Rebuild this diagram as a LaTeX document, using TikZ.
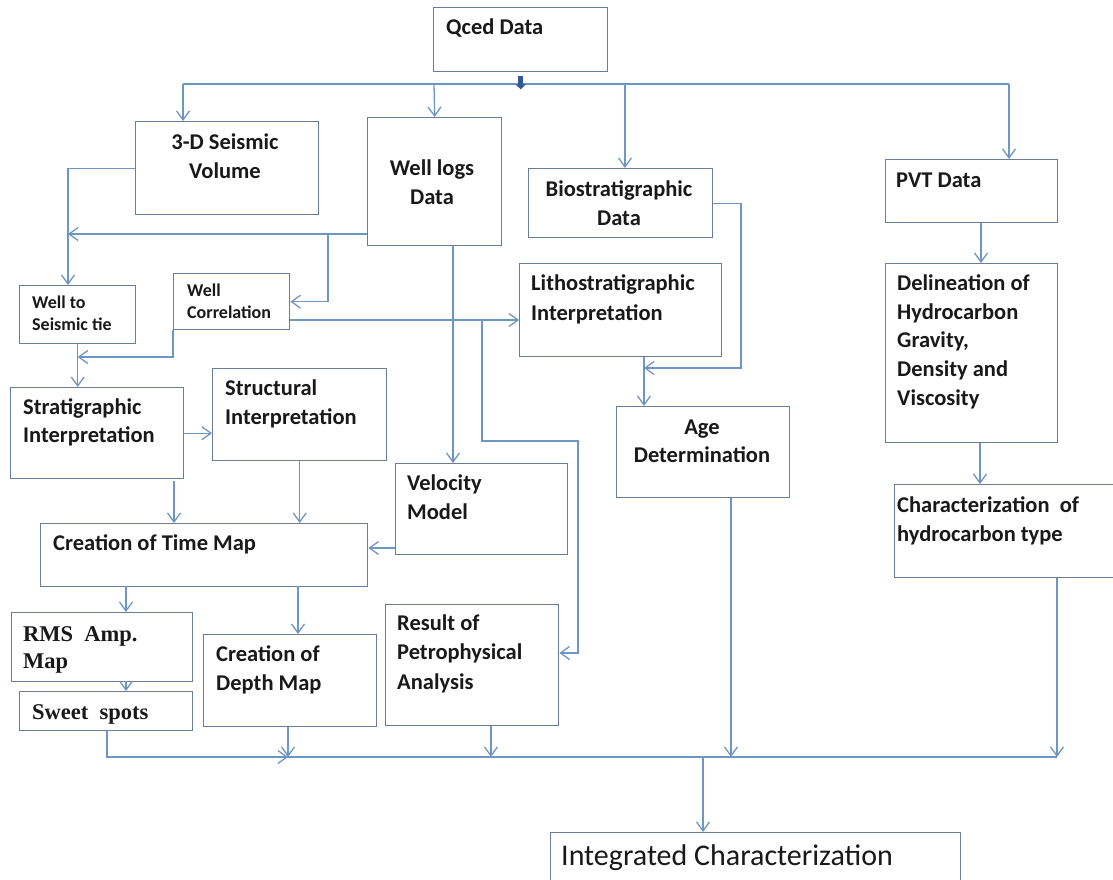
\documentclass[tikz,border=0pt]{standalone}
\usepackage{fontspec}
\setmainfont{Carlito}
\newfontfamily\tnr{Liberation Serif}
\usetikzlibrary{arrows.meta,calc}
\definecolor{boxc}{RGB}{105,125,150}
\definecolor{linec}{RGB}{110,150,195}
\definecolor{txtc}{RGB}{25,25,25}
\definecolor{arrc}{RGB}{50,90,150}
\newcommand\mystrut{\rule{0pt}{18pt}}
\begin{document}
\begin{tikzpicture}[x=1pt,y=-1pt,
  box/.style={draw=boxc,line width=1.4pt,inner sep=0pt,anchor=north west},
  lbl/.style={inner sep=0pt,anchor=north west,align=left,text=txtc,font=\fontsize{22.5}{29}\selectfont\bfseries},
  clbl/.style={lbl,anchor=north,align=center},
  slbl/.style={lbl,font=\fontsize{18}{22}\selectfont\bfseries},
  tlbl/.style={lbl,font=\tnr\fontsize{22.5}{27}\selectfont\bfseries},
  conn/.style={draw=linec,line width=1.3pt},
  arr/.style={conn,-{Straight Barb[length=9pt,width=13pt,line width=1.3pt]}},
]
\fill[white] (0,0) rectangle (1113,880);
\useasboundingbox (0,0) rectangle (1113,880);

% boxes
\node[box,minimum width=174pt,minimum height=64pt] (qced) at (433,7) {};
\node[box,minimum width=183pt,minimum height=93pt] (seis) at (135,121) {};
\node[box,minimum width=134pt,minimum height=128pt] (wlog) at (367,117) {};
\node[box,minimum width=184pt,minimum height=69pt] (bio) at (528,168) {};
\node[box,minimum width=172pt,minimum height=63pt] (pvt) at (885,159) {};
\node[box,minimum width=116pt,minimum height=58pt] (wst) at (19,285) {};
\node[box,minimum width=116pt,minimum height=56pt] (wcor) at (173,273) {};
\node[box,minimum width=202pt,minimum height=93pt] (lith) at (519,263) {};
\node[box,minimum width=172pt,minimum height=179pt] (deli) at (885,263) {};
\node[box,minimum width=173pt,minimum height=91pt] (strat) at (10,387) {};
\node[box,minimum width=174pt,minimum height=92pt] (struc) at (212,368) {};
\node[box,minimum width=172pt,minimum height=91pt] (vel) at (395,463) {};
\node[box,minimum width=173pt,minimum height=91pt] (age) at (616,406) {};
\node[box,minimum width=327pt,minimum height=63pt] (tmap) at (40,523) {};
\node[box,minimum width=226pt,minimum height=93pt] (char) at (894,484) {};
\node[box,minimum width=181pt,minimum height=69pt] (rms) at (11,612) {};
\node[box,minimum width=173pt,minimum height=39pt] (sweet) at (19,691) {};
\node[box,minimum width=173pt,minimum height=92pt] (depth) at (203,634) {};
\node[box,minimum width=173pt,minimum height=121pt] (res) at (385,604) {};
\node[box,minimum width=410pt,minimum height=60pt] (integ) at (550,832) {};

% texts
\node[lbl] (tqced) at (446,16) {\mystrut Qced Data};
\node[clbl] (tseis) at (225,131) {\mystrut 3-D Seismic\\Volume};
\node[clbl] (twlog) at (432,157) {\mystrut Well logs\\Data};
\node[clbl] (tbio) at (619,178) {\mystrut Biostratigraphic\\Data};
\node[lbl] (tpvt) at (896,169) {\mystrut PVT Data};
\node[slbl] (twst) at (32,290) {\mystrut Well to\\Seismic tie};
\node[slbl] (twcor) at (187,278) {\mystrut Well\\Correlation};
\node[lbl,font=\fontsize{22.5}{30}\selectfont\bfseries] (tlith) at (531,272) {\mystrut Lithostratigraphic\\Interpretation};
\node[lbl,font=\fontsize{22.5}{28.8}\selectfont\bfseries] (tdeli) at (897,272) {\mystrut Delineation of\\Hydrocarbon\\Gravity,\\Density and\\Viscosity};
\node[lbl,font=\fontsize{22.5}{28}\selectfont\bfseries] (tstrat) at (23,396) {\mystrut Stratigraphic\\Interpretation};
\node[lbl] (tstruc) at (225,377) {\mystrut Structural\\Interpretation};
\node[clbl,font=\fontsize{22.5}{28}\selectfont\bfseries] (tage) at (702,416) {\mystrut Age\\Determination};
\node[lbl] (tvel) at (407,472) {\mystrut Velocity\\Model};
\node[lbl] (ttmap) at (53,532) {\mystrut Creation of Time Map};
\node[lbl] (tchar) at (897,494) {\mystrut Characterization\ \ of\\hydrocarbon type};
\node[tlbl] (trms) at (23,623) {\mystrut RMS\ \ Amp.\\Map};
\node[tlbl] (tsweet) at (32,701) {\mystrut Sweet\ \ spots};
\node[lbl] (tdepth) at (216,643) {\mystrut Creation of\\Depth Map};
\node[lbl,font=\fontsize{22.5}{29.5}\selectfont\bfseries] (tres) at (397,612) {\mystrut Result of\\Petrophysical\\Analysis};
\node[lbl,font=\fontsize{30}{36}\selectfont] (tinteg) at (561,841) {\rule{0pt}{24pt}Integrated Characterization};

% top bus
\coordinate (b1) at (183,84);
\coordinate (b2) at (434,84);
\coordinate (b3) at (625,84);
\coordinate (b4) at (1009,84);
\draw[conn] (b1) -- (b4);
\draw[arr] (b1) -- (b1 |- seis.north);
\draw[arr] (b2) -- (wlog.north);
\draw[arr] (b3) -- (b3 |- bio.north);
\draw[arr] (b4) -- (b4 |- pvt.north);
\draw[draw=arrc,line width=5pt,-{Triangle[length=5pt,width=10pt]}] ([yshift=-4pt]qced.south) -- ([yshift=-17pt]qced.south);

% left side
\coordinate (k1) at (68,0);
\draw[arr] (seis.west) -| (k1 |- wst.north);
\coordinate (k2) at (367,234);
\coordinate (k3) at (68,234);
\draw[arr] (k2) -- (k3);
\coordinate (k4) at (328,234);
\draw[arr] (k4) |- (wcor.east);
\draw[arr] (wcor.east |- 0,320) -- (lith.west |- 0,320);
\coordinate (k5) at (482,320);
\coordinate (k6) at (578,441);
\draw[arr] (k5) |- (k6) |- (res.east |- 0,653);
\draw[arr] (wcor.south west) |- (wst.south |- 0,357);
\draw[arr] (wst.south) -- (wst.south |- strat.north);
\draw[arr] (strat.east) -- (strat.east -| struc.west);
\coordinate (k7) at (174,481);
\draw[arr] (k7) -- (k7 |- tmap.north);
\draw[arr] (struc.south) -- (struc.south |- tmap.north);
\coordinate (k8) at (453,245);
\draw[arr] (k8) -- (k8 |- vel.north);
\draw[arr] (vel.west |- 0,548) -- (tmap.east |- 0,548);
\coordinate (k9) at (126,586);
\draw[arr] (k9) -- (k9 |- rms.north);
\coordinate (k10) at (298,586);
\draw[arr] (k10) -- (k10 |- depth.north);
\coordinate (k11) at (126,681);
\draw[arr] (k11) -- (k11 |- sweet.north);

% right side
\coordinate (k12) at (741,368);
\draw[arr] (bio.east) -| (k12) -- (k12 -| 644,0);
\draw[arr] (lith.south -| 644,0) -- (age.north -| 644,0);
\draw[arr] (pvt.south -| 981,0) -- (deli.north -| 981,0);
\draw[arr] (deli.south -| 980,0) -- (char.north -| 980,0);

% bottom bus
\coordinate (m1) at (107,730);
\coordinate (m2) at (288,757);
\coordinate (m3) at (1057,757);
\coordinate (m4) at (703,757);
\draw[conn] (m1 |- m2) -- (m3);
\draw[arr] (m1) |- (m2);
\draw[arr] (m2 |- depth.south) -- (m2);
\draw[arr] (res.south -| 491,0) -- (m2 -| 491,0);
\draw[arr] (age.south -| 731,0) -- (m2 -| 731,0);
\draw[arr] (char.south -| m3) -- (m3);
\draw[arr] (m4) -- (m4 |- integ.north);
\end{tikzpicture}
\end{document}
